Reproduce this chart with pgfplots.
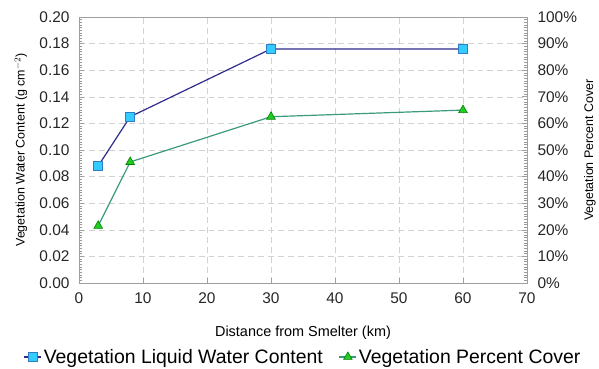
\documentclass[border=0pt]{standalone}
\usepackage{pgfplots}
\pgfplotsset{compat=1.18}
\usepackage{fontspec}
\setmainfont{Liberation Sans}
\definecolor{navy}{HTML}{2E2B8C}
\definecolor{cyanf}{HTML}{33CCFF}
\definecolor{teal2}{HTML}{3A9A7E}
\definecolor{greenf}{HTML}{22CC22}
\begin{document}
\begin{tikzpicture}
\useasboundingbox (-79bp,-86bp) rectangle (520bp,283bp);
\begin{axis}[
  at={(0,0)}, anchor=south west,
  scale only axis, width=448bp, height=266bp,
  xmin=0, xmax=70, ymin=0, ymax=0.20,
  xtick={0,10,...,70},
  ytick={0,0.02,...,0.2},
  minor y tick num=9,
  ytick pos=left, xtick pos=bottom,
  tick align=inside,
  major tick length=5bp, minor tick length=3bp,
  /pgf/number format/assume math mode=true,
  ticklabel style={font=\fontsize{15.5}{17}\selectfont, color=black!85},
  yticklabel style={xshift=-6bp, /pgf/number format/.cd,fixed,fixed zerofill,precision=2},
  xticklabel style={yshift=-6bp},
  grid=major,
  major grid style={dash pattern=on 6pt off 4pt, gray!35, line width=0.6pt},
  axis line style={gray!75, line width=0.8pt},
  tick style={gray!75, line width=0.6pt},
  minor tick style={gray!80, line width=0.6pt},
  xlabel={Distance from Smelter (km)},
  xlabel style={font=\fontsize{14.5}{16}\selectfont, at={(axis description cs:0.5,-0.188)}, anchor=center},
  ylabel={Vegetation Water Content (g cm$^{-2}$)},
  ylabel style={font=\fontsize{12.5}{14}\selectfont, at={(axis description cs:-0.1295,0.5)}, anchor=center},
  legend style={draw=none, at={(0.5,-0.278)}, anchor=center, legend columns=2,
    font=\fontsize{19.5}{21}\selectfont, fill=none, inner sep=0pt,
    /tikz/every even column/.append style={column sep=14bp}},
  legend cell align=left,
]
\addplot[navy, line width=1.2pt, mark=square*, mark size=4.5pt,
  mark options={fill=cyanf, draw=navy!50!cyanf, line width=0.6pt}]
  coordinates {(3,0.088) (8,0.125) (30,0.176) (60,0.176)};
\addlegendentry{Vegetation Liquid Water Content}
\addlegendimage{teal2, line width=1.2pt, mark=triangle*, mark size=5pt,
  mark options={fill=greenf, draw=green!50!black, line width=0.6pt}}
\addlegendentry{Vegetation Percent Cover}
\end{axis}
\begin{axis}[
  at={(0,0)}, anchor=south west,
  scale only axis, width=448bp, height=266bp,
  xmin=0, xmax=70, ymin=0, ymax=100,
  axis x line=none, xtick=\empty,
  axis y line*=right,
  ytick={0,10,...,100},
  minor y tick num=9,
  tick align=inside,
  major tick length=5bp, minor tick length=3bp,
  yticklabel={\pgfmathprintnumber{\tick}\%},
  /pgf/number format/assume math mode=true,
  ticklabel style={font=\fontsize{15.5}{17}\selectfont, color=black!85},
  yticklabel style={xshift=7bp},
  axis line style={gray!75, line width=0.8pt},
  tick style={gray!75, line width=0.6pt},
  minor tick style={gray!80, line width=0.6pt},
  ylabel={Vegetation Percent Cover},
  ylabel style={font=\fontsize{12.5}{14}\selectfont, at={(axis description cs:1.1406,0.5)}, anchor=center},
]
\addplot[teal2, line width=1.2pt, mark=triangle*, mark size=5pt,
  mark options={fill=greenf, draw=green!50!black, line width=0.6pt}]
  coordinates {(3,21.5) (8,45.5) (30,62.5) (60,65)};
\end{axis}
\end{tikzpicture}
\end{document}
